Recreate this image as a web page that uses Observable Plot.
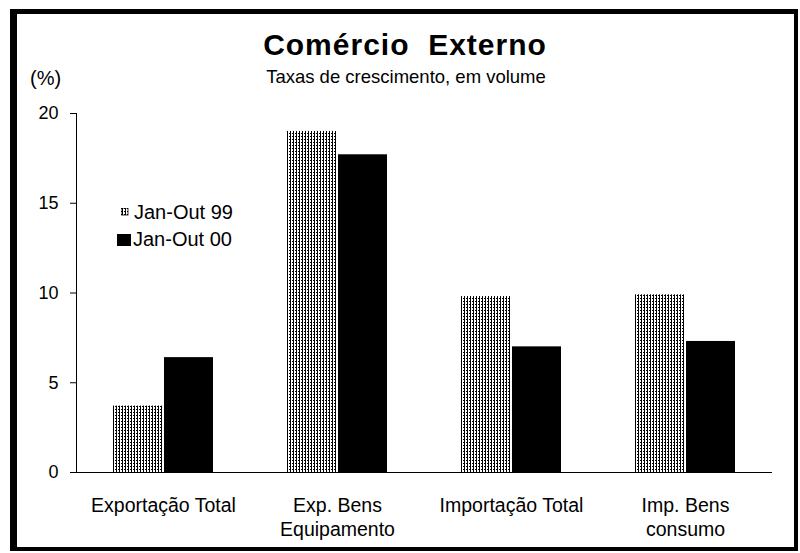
<!DOCTYPE html>
<html><head><meta charset="utf-8">
<script src="https://cdn.jsdelivr.net/npm/d3@7"></script>
<script src="https://cdn.jsdelivr.net/npm/@observablehq/plot@0.6"></script>
<style>
body{margin:0;background:#fff;font-family:"Liberation Sans",Arial,sans-serif;color:#000;}
#wrap{position:relative;width:800px;height:553px;overflow:hidden;background:#fff;}
#border{position:absolute;left:10px;top:9px;width:777px;height:533px;border:solid #000;border-width:5px 4px 4px 7px;pointer-events:none;}
.t{position:absolute;line-height:1;white-space:pre;}
#title{left:5px;width:800px;text-align:center;top:30px;font-size:30px;font-weight:bold;letter-spacing:1px;}
#sub{left:6px;width:800px;text-align:center;top:68px;font-size:18.5px;}
#pct{left:30px;top:68px;font-size:20px;}
#chart{position:absolute;left:0;top:100px;}
.lg{position:absolute;font-size:20px;line-height:1;white-space:pre;}
</style></head>
<body>
<div id="wrap">
  <div id="chart"></div>
  <div class="t" id="title">Comércio  Externo</div>
  <div class="t" id="sub">Taxas de crescimento, em volume</div>
  <div class="t" id="pct">(%)</div>
  <svg class="lg" style="left:121px;top:208px" width="8" height="8"><rect width="7" height="7" fill="url(#stipple)" stroke="#000" stroke-width="0.8"/></svg>
  <div class="lg" id="l99" style="left:134px;top:202px"></div>
  <svg class="lg" style="left:117px;top:234px" width="14" height="12"><rect width="14" height="12" fill="#000"/></svg>
  <div class="lg" id="l00" style="left:133px;top:229px"></div>
  <div id="border"></div>
</div>
<script>
const categories = ["Exportação Total", "Exp. Bens\nEquipamento", "Importação Total", "Imp. Bens\nconsumo"];
const series = ["Jan-Out 99", "Jan-Out 00"];
const values99 = [3.7, 19.0, 9.8, 9.9];
const values00 = [6.4, 17.7, 7.0, 7.3];
const yTicks = [0, 5, 10, 15, 20];

const data = [];
categories.forEach((c, i) => {
  data.push({cat: c, series: series[0], value: values99[i]});
  data.push({cat: c, series: series[1], value: values00[i]});
});

document.getElementById("l99").textContent = series[0];
document.getElementById("l00").textContent = series[1];

const svg = Plot.plot({
  width: 800,
  height: 445,
  marginTop: 13,
  marginBottom: 73,
  marginLeft: 75,
  marginRight: 28,
  style: {fontFamily: '"Liberation Sans", Arial, sans-serif', fontSize: "18px", color: "#000", background: "transparent"},
  fx: {domain: categories, padding: 0, label: null, axis: null},
  x: {domain: series, paddingInner: 0.04, paddingOuter: 0.72, axis: null},
  y: {domain: [0, 20], label: null, axis: null},
  color: {domain: series, range: ["url(#stipple)", "#000"]},
  marks: [
    Plot.barY(data, {fx: "cat", x: "series", y: "value", fill: "series"}),
    Plot.ruleY([0], {stroke: "#000", strokeWidth: 1}),
    Plot.frame({anchor: "left", facetAnchor: "left", stroke: "#000"}),
    Plot.axisY({ticks: yTicks, tickSize: 6, tickPadding: 12, fontSize: 18, label: null}),
    Plot.axisFx({anchor: "bottom", tickSize: 0, tickPadding: 22, fontSize: 19.5, lineHeight: 1.25, label: null})
  ]
});

const defs = d3.select(svg).insert("defs", ":first-child");
const pat = defs.append("pattern").attr("id", "stipple")
  .attr("patternUnits", "userSpaceOnUse").attr("width", 3).attr("height", 3);
pat.append("rect").attr("width", 3).attr("height", 3).attr("fill", "#fff");
pat.append("rect").attr("x", 0).attr("y", 0).attr("width", 2).attr("height", 1).attr("fill", "#000");
pat.append("rect").attr("x", 1).attr("y", 1).attr("width", 1).attr("height", 2).attr("fill", "#000");

document.getElementById("chart").appendChild(svg);
</script>
</body></html>
